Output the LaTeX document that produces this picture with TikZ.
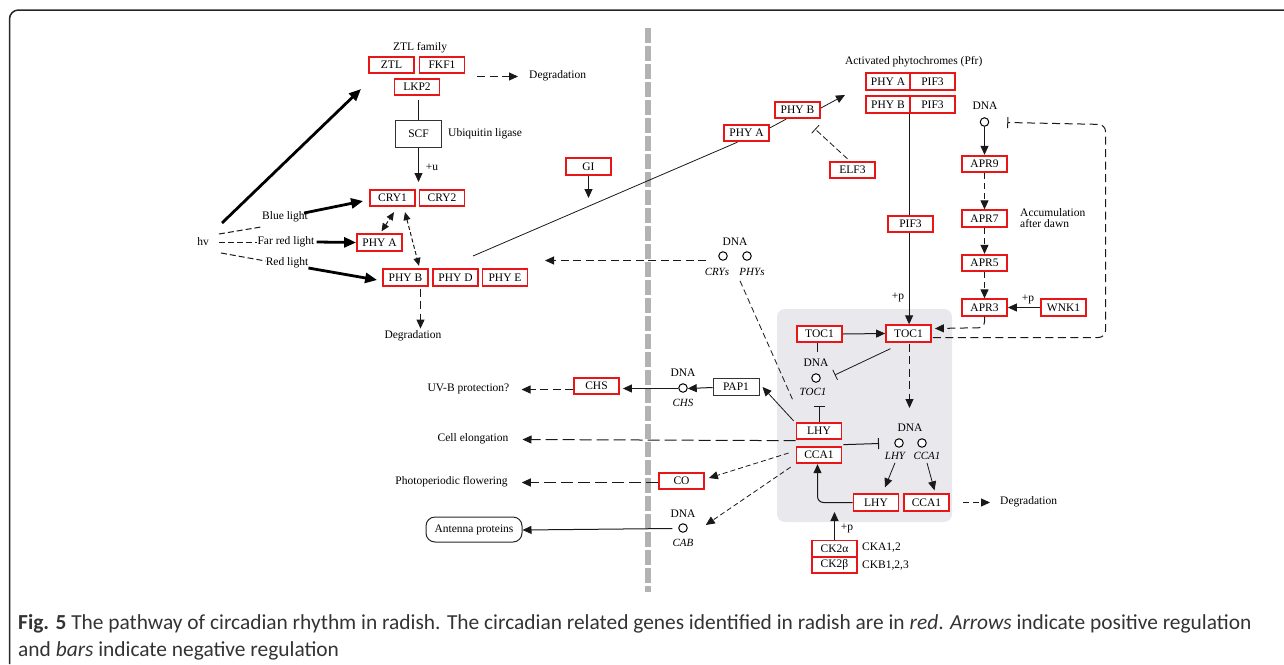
\documentclass[tikz,border=0pt]{standalone}
\usepackage{fontspec}
\setmainfont{Liberation Serif}
\newfontfamily\capfont{Carlito}
\usetikzlibrary{arrows.meta,calc}
\definecolor{kred}{RGB}{232,22,22}
\definecolor{regiongray}{RGB}{233,232,237}
\definecolor{bargray}{RGB}{178,178,178}
\begin{document}
\begin{tikzpicture}[x=1pt,y=-1pt,
 fs/.style={font=\fontsize{11.5}{13}\selectfont},
 rbox/.style={draw=kred, line width=1.8pt, fill=white, minimum width=45pt, minimum height=16.5pt, inner sep=0pt, fs},
 kbox/.style={draw=black!80, line width=1pt, fill=white, minimum width=46pt, minimum height=16.5pt, inner sep=0pt, fs},
 lbl/.style={inner sep=0pt, fs},
 ital/.style={inner sep=0pt, font=\fontsize{11}{13}\selectfont\itshape},
 ln/.style={line width=1pt, draw=black!90},
 arr/.style={ln, -{Triangle[length=9pt,width=8pt]}},
 darr/.style={arr, dash pattern=on 8pt off 4.5pt},
 sdarr/.style={arr, dash pattern=on 5pt off 3pt},
 barr/.style={ln, -{Bar[width=11pt]}},
 tarr/.style={line width=2.8pt, -{Triangle[length=12pt,width=10pt]}},
 dna/.style={circle, draw, line width=1pt, fill=white, minimum size=8.5pt, inner sep=0pt},
 captext/.style={anchor=base west, inner sep=0pt, text=black!80, font=\capfont\fontsize{21.4}{26}\selectfont}]
\useasboundingbox (0,0) rectangle (1284,664);
% frame
\draw[line width=1.5pt, draw=black!85, rounded corners=9pt] (9.5,664) -- (9.5,10) -- (1290,10);
% membrane bar
\draw[line width=5.5pt, draw=bargray, dash pattern=on 15pt off 3pt] (648,28) -- (648,592);
% shaded region
\fill[fill=regiongray, rounded corners=8pt] (777,309) rectangle (952,522);

% ---------- left cluster ----------
\node[lbl] (ztlfam) at (420,48) {ZTL family};
\node[rbox] (ZTL) at (391.5,65) {ZTL};
\node[rbox] (FKF1) at (442,65) {FKF1};
\node[rbox] (LKP2) at (417,87) {LKP2};
\node[kbox, minimum height=27pt] (SCF) at (418.5,133.5) {SCF};
\node[lbl, anchor=west] (ubq) at (448,134) {Ubiquitin ligase};
\node[lbl, anchor=west] (deg1) at (529,76) {Degradation};
\coordinate (d1) at (477,76.5);
\draw[darr, shorten >=11pt] (d1) -- (deg1.west |- d1);
\draw[ln, shorten <=4pt] (LKP2.south -| SCF) -- (SCF.north);
\node[rbox] (CRY1) at (392.5,198) {CRY1};
\node[rbox] (CRY2) at (442,198) {CRY2};
\coordinate (cryt) at (418.5,182);
\draw[arr] (SCF.south) -- (cryt);
\node[lbl] (plusu) at (432,167) {+u};
\node[rbox] (GI) at (588.5,166.5) {GI};
\coordinate (git) at (588.5,198);
\draw[arr] (GI.south) -- (git);

\node[lbl] (hv) at (203,242) {hv};
\node[lbl] (blue) at (285,217) {Blue light};
\node[lbl] (farred) at (286,242) {Far red light};
\node[lbl] (red) at (287,263) {Red light};
\node[rbox] (PHYA) at (379.5,242.5) {PHY A};
\node[rbox] (PHYB) at (405.5,277.5) {PHY B};
\node[rbox] (PHYD) at (455.5,277.5) {PHY D};
\node[rbox] (PHYE) at (505,277.5) {PHY E};
\coordinate (hvz) at (222,223);
\coordinate (ztlt) at (361,89);
\draw[tarr] (hvz) -- (ztlt);
\draw[ln, dash pattern=on 6pt off 3pt] ($(hv.east)+(10,-8)$) -- ($(blue.west)+(-1,10)$);
\draw[ln, dash pattern=on 6pt off 3pt] ($(hv.east)+(10,0.5)$) -- ($(farred.west)+(0,0.5)$);
\draw[ln, dash pattern=on 6pt off 3pt] ($(hv.east)+(12,11)$) -- ($(red.west)+(0,-2)$);
\draw[tarr] ($(blue.east)+(-4,-4)$) -- ($(CRY1.west)+(-6,3)$);
\draw[tarr] ($(farred.east)+(2,0)$) -- (PHYA.west);
\draw[tarr] ($(red.east)+(0,5)$) -- ($(PHYB.west)+(-5,2.5)$);
\draw[ln, dash pattern=on 4pt off 2.5pt, {Triangle[length=8pt,width=7pt]}-{Triangle[length=8pt,width=7pt]}] ($(PHYA.north)+(2,-2)$) -- ($(CRY1.south)+(1.5,5)$);
\draw[ln, dash pattern=on 4pt off 2.5pt, {Triangle[length=8pt,width=7pt]}-{Triangle[length=8pt,width=7pt]}] ($(CRY1.south)+(12.5,5)$) -- ($(PHYB.north)+(13.5,-2.5)$);
\node[lbl] (deg2) at (413,336) {Degradation};
\draw[darr] ($(PHYB.south)+(15,2)$) -- ($(deg2.north)+(7.5,-2)$);

% ---------- top right ----------
\node[lbl] (pfr) at (913.7,62) {Activated phytochromes (Pfr)};
\node[rbox, minimum width=44pt] (PHYAr) at (888,81.5) {PHY A};
\node[rbox] (PIF3a) at (932.5,81.5) {PIF3};
\node[rbox, minimum width=44pt] (PHYBr) at (888,104.5) {PHY B};
\node[rbox] (PIF3b) at (932.5,104.5) {PIF3};
\node[rbox] (PHYB2) at (797.5,110) {PHY B};
\node[rbox] (PHYA2) at (746.5,133) {PHY A};
\coordinate (lstart) at (473,256);
\draw[ln, line width=0.8pt] (lstart) -- ($(PHYA2.south)+(-9,0)$);
\draw[ln, line width=0.8pt] ($(PHYA2.north east)+(0,4)$) -- ($(PHYB2.south west)+(12,0)$);
\coordinate (pfrt) at (845,95);
\draw[arr, line width=0.8pt] ($(PHYB2.east)+(0,-2)$) -- (pfrt);
\node[rbox] (ELF3) at (852.5,170) {ELF3};
\coordinate (elfb) at (815,129);
\draw[barr, line width=0.8pt, dash pattern=on 6pt off 3pt] ($(ELF3.north)+(-5,-2)$) -- (elfb);

\node[lbl] (dnaA) at (985,106) {DNA};
\node[dna] (cA) at (984.5,122) {};
\node[rbox] (APR9) at (984.5,164) {APR9};
\node[rbox] (APR7) at (984.5,218.5) {APR7};
\node[rbox] (APR5) at (984.5,263) {APR5};
\node[rbox] (APR3) at (984.5,307.5) {APR3};
\node[rbox] (WNK1) at (1063.5,307.5) {WNK1};
\node[lbl, anchor=west, align=left, font=\fontsize{11.5}{11}\selectfont] (acc) at (1020,218.5) {Accumulation\\after dawn};
\draw[arr] (cA.south) -- (APR9.north);
\draw[darr, dash pattern=on 6pt off 4pt] (APR9.south) -- (APR7.north);
\draw[darr, dash pattern=on 6pt off 4pt] (APR7.south) -- (APR5.north);
\draw[darr, dash pattern=on 6pt off 4pt] (APR5.south) -- (APR3.north);
\draw[arr] (WNK1.west) -- (APR3.east);
\node[lbl] (pp1) at (1028,299) {+p};
\node[rbox] (PIF3c) at (910.5,224) {PIF3};
\draw[ln] (PIF3b.south west) -- (PIF3c.north -| PIF3b.south west);

% ---------- shaded region ----------
\node[rbox] (TOC1l) at (819.5,334) {TOC1};
\node[rbox] (TOC1r) at (908.5,333.5) {TOC1};
\draw[arr] (PIF3c.south -| PIF3b.south west) -- (TOC1r.north -| PIF3b.south west);
\node[lbl] (pp2) at (898,297) {+p};
\draw[arr] (TOC1l.east) -- (TOC1r.west);
\draw[darr, rounded corners=6pt] (APR3.south) -- ($(APR3.south)+(0,11)$) -- ($(TOC1r.east)+(3,-5)$);
\draw[barr, dash pattern=on 8pt off 4.5pt, rounded corners=7pt] ($(TOC1r.east)+(1,4)$) -- (1105.5,337.5) -- (1105.5,124.5) -- ($(cA.east)+(18,0.5)$);
\node[lbl] (dnaT) at (816,363) {DNA};
\node[dna] (cT) at (816,378) {};
\node[ital] (toc1g) at (813,392) {TOC1};
\draw[ln] (TOC1l.south -| 817.5,0) -- (817.5,352);
\node[rbox] (LHY) at (819,431) {LHY};
\node[rbox] (CCA1) at (819,455) {CCA1};
\draw[barr] ($(LHY.north)+(0.5,0)$) -- (819.5,406);
\draw[barr, line width=0.8pt] ($(TOC1r.south)+(-18,6)$) -- ($(cT.east)+(14,-3)$);
\coordinate (dnaLt) at (909.5,408);
\draw[darr] ($(TOC1r.south)+(1,1)$) -- (dnaLt);
\node[lbl] (dnaL) at (910,428) {DNA};
\node[dna] (cL) at (899,443) {};
\node[dna] (cC) at (922,443) {};
\node[ital] (lhyg) at (895,456) {LHY};
\node[ital] (cca1g) at (927,456) {CCA1};
\draw[barr] ($(LHY.south east)+(1,4.5)$) -- (879,443.5);
\node[rbox] (LHYb) at (876,502.5) {LHY};
\node[rbox] (CCA1b) at (926.5,502.5) {CCA1};
\draw[arr, line width=0.8pt] ($(lhyg.south)+(0,3)$) -- ($(LHYb.north)+(9,-6)$);
\draw[arr, line width=0.8pt] ($(cca1g.south)+(0,3)$) -- ($(CCA1b.north)+(8,-3)$);
\draw[arr, rounded corners=6pt] (LHYb.west) -- (817.5,502.5) -- (CCA1.south -| 817.5,0);
\node[lbl, anchor=west] (deg3) at (1000,502) {Degradation};
\coordinate (d3) at (963,502.5);
\draw[darr, dash pattern=on 6pt off 4pt, shorten >=10pt] (d3) -- (deg3.west |- d3);
\node[rbox, minimum height=16pt] (CK2a) at (834.5,548.5) {CK2α};
\node[rbox, minimum height=16pt] (CK2b) at (834.5,565) {CK2β};
\coordinate (ckt) at (834.5,512);
\draw[arr] (CK2a.north) -- (ckt);
\node[lbl] (pp3) at (847,528) {+p};
\node[lbl, anchor=west] (cka) at (862,548) {CKA1,2};
\node[lbl, anchor=west] (ckb) at (862,566) {CKB1,2,3};

% ---------- DNA CRYs PHYs ----------
\node[lbl] (dnaP) at (735,242) {DNA};
\node[dna] (cCRY) at (723,256) {};
\node[dna] (cPHY) at (747,256) {};
\node[ital] (crys) at (717,272) {CRYs};
\node[ital] (phys) at (752,272) {PHYs};
\coordinate (phyt) at (545,260.5);
\draw[darr] ($(cCRY.west)+(-12,4.5)$) -- (phyt);
\draw[ln, line width=0.8pt, dash pattern=on 6pt off 3.5pt] ($(phys.south)+(-12,5)$) -- ($(LHY.north west)+(-2,-20)$);

% ---------- outputs ----------
\node[kbox] (PAP1) at (736,387) {PAP1};
\node[lbl] (dnaC) at (683,373) {DNA};
\node[dna] (cCHS) at (683,388) {};
\node[ital] (chsg) at (683,403) {CHS};
\node[rbox] (CHS) at (596.5,386) {CHS};
\draw[arr, line width=0.8pt] ($(LHY.north west)+(-2,-1)$) -- ($(PAP1.east)+(3,0)$);
\draw[arr] ($(PAP1.west)+(0,0.5)$) -- ($(cCHS.east)+(0,0.5)$);
\draw[arr] ($(cCHS.west)+(0,0.5)$) -- ($(CHS.east)+(3,2.5)$);
\node[lbl] (uvb) at (468.5,389) {UV-B protection?};
\draw[darr] ($(CHS.west)+(0,3.5)$) -- ($(uvb.east)+(12,0.5)$);
\node[lbl] (cell) at (473,439) {Cell elongation};
\draw[darr, dash pattern=on 12pt off 5pt] ($(LHY.south west)+(0,0.5)$) -- ($(cell.east)+(14,0.5)$);
\node[rbox] (CO) at (681.5,481) {CO};
\node[lbl] (flow) at (451.5,482) {Photoperiodic flowering};
\draw[sdarr, line width=0.8pt] ($(CCA1.west)+(-7,-2)$) -- ($(CO.east)+(4,-3)$);
\draw[darr, dash pattern=on 12pt off 5pt] ($(CO.west)+(0,1.5)$) -- ($(flow.east)+(14,0.5)$);
\node[lbl] (dnaB) at (683,514) {DNA};
\node[dna] (cCAB) at (683,528) {};
\node[ital] (cabg) at (683,543) {CAB};
\draw[sdarr, line width=0.8pt] ($(CCA1.south west)+(-5,3)$) -- ($(cCAB.east)+(18,-3)$);
\node[draw=black!85, line width=1pt, rounded corners=9pt, minimum width=96pt, minimum height=25pt, inner sep=0pt, fs] (ant) at (474,529.5) {Antenna proteins};
\draw[arr] ($(cCAB.west)+(-6,0.5)$) -- ($(ant.east)+(0,0.5)$);

% ---------- caption ----------
\node[captext] (cap1) at (18,629) {\textbf{Fig. 5} The pathway of circadian rhythm in radish. The circadian related genes identified in radish are in \textit{red}. \textit{Arrows} indicate positive regulation};
\node[captext] (cap2) at (18,656) {and \textit{bars} indicate negative regulation};
\end{tikzpicture}
\end{document}
